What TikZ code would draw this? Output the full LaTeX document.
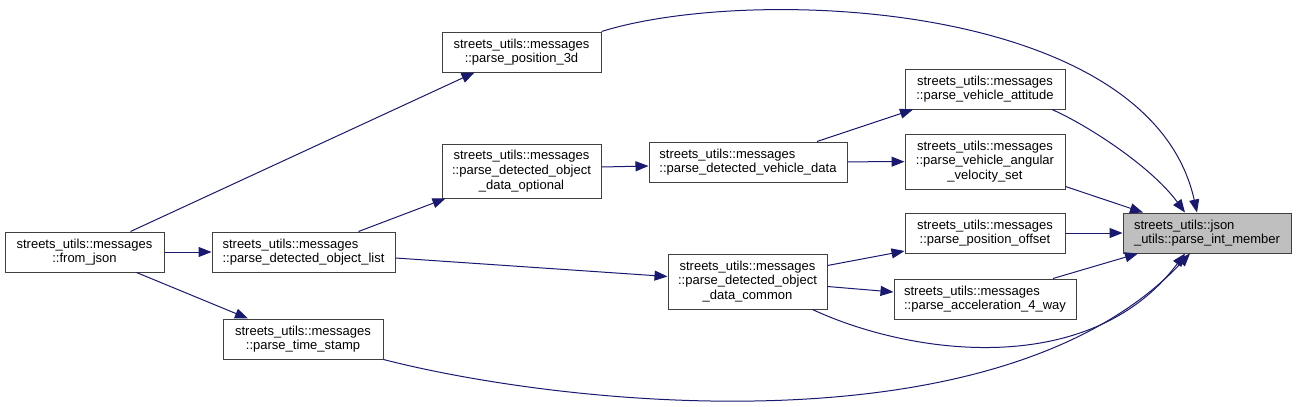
\documentclass[tikz,border=0pt]{standalone}
\usepackage{fontspec}
\setmainfont{Liberation Sans}
\usepackage{tikz}
\usetikzlibrary{arrows.meta}
\definecolor{edgeblue}{RGB}{25,25,112}
\definecolor{boxline}{RGB}{64,64,64}

\begin{document}
\begin{tikzpicture}[x=1pt, y=-1pt, font=\fontsize{13}{14.7}\selectfont,
  fn/.style={draw=boxline, line width=1pt, fill=white, align=center, inner sep=2pt, minimum height=40pt},
  call/.style={draw=edgeblue, line width=1pt, -{Triangle[length=13pt,width=10pt]}}]
  \path[use as bounding box, fill=white] (0,0) rectangle (1296,407);
  \node[fn, minimum width=159pt] (fromjson) at (84.5,252) {streets\_utils::messages\\::from\_json};
  \node[fn, minimum width=183pt, align=left] (objlist) at (303.5,252) {streets\_utils::messages\\::parse\_detected\_object\_list};
  \node[fn, minimum width=160pt] (timestamp) at (303,339) {streets\_utils::messages\\::parse\_time\_stamp};
  \node[fn, minimum width=159pt] (position3d) at (521.5,52) {streets\_utils::messages\\::parse\_position\_3d};
  \node[fn, minimum width=159pt, minimum height=54pt] (optional) at (521.5,171) {streets\_utils::messages\\::parse\_detected\_object\\\_data\_optional};
  \node[fn, minimum width=198pt, align=left] (vehicledata) at (748,162) {streets\_utils::messages\\::parse\_detected\_vehicle\_data};
  \node[fn, minimum width=159pt, minimum height=55pt] (common) at (747.5,281.5) {streets\_utils::messages\\::parse\_detected\_object\\\_data\_common};
  \node[fn, minimum width=160pt] (attitude) at (985,89) {streets\_utils::messages\\::parse\_vehicle\_attitude};
  \node[fn, minimum width=160pt, minimum height=55pt] (angular) at (985,161.5) {streets\_utils::messages\\::parse\_vehicle\_angular\\\_velocity\_set};
  \node[fn, minimum width=160pt] (offset) at (985,233) {streets\_utils::messages\\::parse\_position\_offset};
  \node[fn, minimum width=182pt, align=left] (accel) at (985,299) {streets\_utils::messages\\::parse\_acceleration\_4\_way};
  \node[fn, minimum width=168pt, align=left, fill=black!25] (intmember) at (1207,233) {streets\_utils::json\\\_utils::parse\_int\_member};
  \draw[call] ([xshift=46pt]fromjson.north) -- ([xshift=-47pt]position3d.south);
  \draw[call] (fromjson) -- (objlist);
  \draw[call] ([xshift=52pt]fromjson.south) -- ([xshift=-55pt]timestamp.north);
  \draw[call] ([xshift=55pt]objlist.north) -- ([xshift=-76pt]optional.south);
  \draw[call] ([yshift=-6pt]objlist.east) -- ([yshift=5pt]common.west);
  \draw[call] ([yshift=4pt]optional.east) -- ([yshift=-4pt]vehicledata.west);
  \draw[call] ([xshift=69pt]vehicledata.north) -- ([xshift=-72pt]attitude.south);
  \draw[call] (vehicledata) -- (angular);
  \draw[call] ([yshift=16pt]common.east) -- ([yshift=-18pt]offset.west);
  \draw[call] ([yshift=-5pt]common.east) -- ([yshift=7pt]accel.west);
  \draw[call] ([xshift=65pt]common.south) .. controls (910,355) and (1090,380) .. ([xshift=-22pt]intmember.south);
  \draw[call] (timestamp.south east) .. controls (560,405) and (1000,455) .. ([xshift=-17pt]intmember.south);
  \draw[call] (position3d.north east) .. controls (750,-15) and (1150,0) .. ([xshift=-10pt]intmember.north);
  \draw[call] ([xshift=67pt]attitude.south) .. controls (1085,124) and (1150,165) .. ([xshift=-22pt]intmember.north);
  \draw[call] ([yshift=-25pt]angular.east) -- ([xshift=-64pt]intmember.north);
  \draw[call] (offset) -- (intmember);
  \draw[call] ([xshift=68pt]accel.north) -- ([xshift=-69pt]intmember.south);
\end{tikzpicture}
\end{document}
